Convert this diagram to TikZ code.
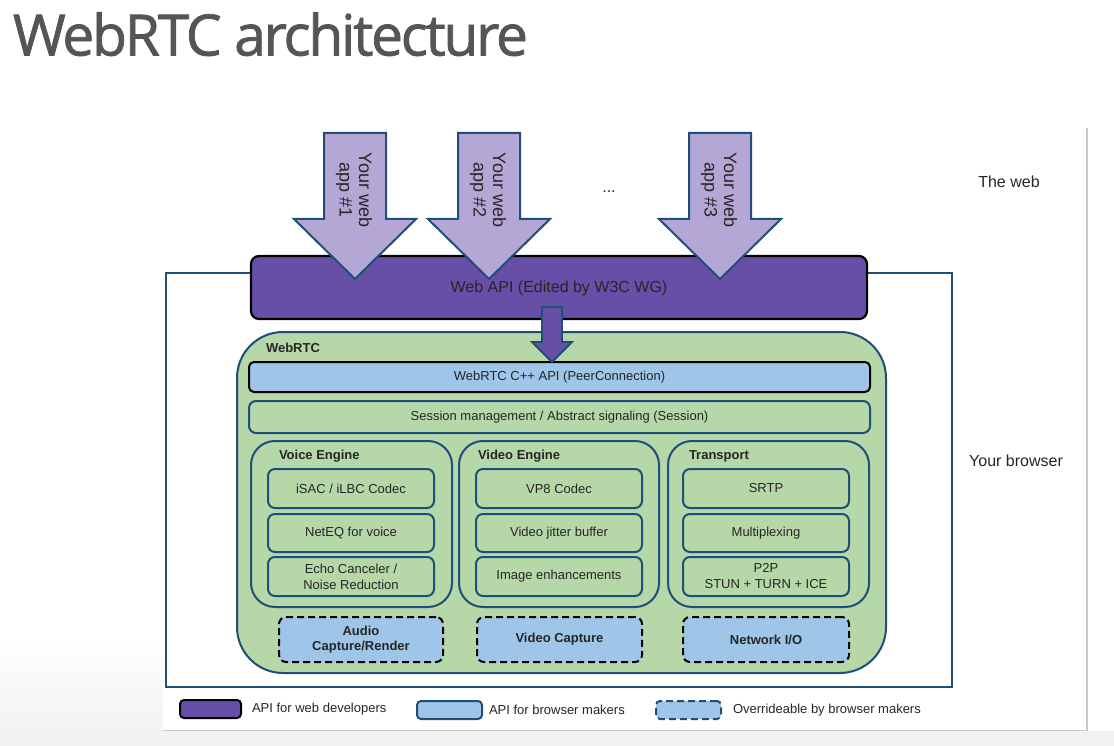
\documentclass[tikz,border=0pt]{standalone}
\usepackage{fontspec}
\setmainfont{Liberation Sans}
\newfontfamily\titlefont[FakeBold=1.3,LetterSpace=-4]{Open Sans}
\usetikzlibrary{calc}
\definecolor{apipurple}{HTML}{674EA7}
\definecolor{apppurple}{HTML}{B4A7D6}
\definecolor{rtcgreen}{HTML}{B6D7A8}
\definecolor{apiblue}{HTML}{9FC5E8}
\definecolor{bordblue}{HTML}{1F4E79}
\definecolor{txt}{HTML}{262626}
\definecolor{titlegrey}{HTML}{555555}
\definecolor{framegrey}{HTML}{C8C8C8}
\definecolor{pagegrey}{HTML}{F2F2F2}
\newcommand\fsz[2]{\fontsize{#1}{#2}\selectfont}
\begin{document}
\begin{tikzpicture}[x=1pt,y=-1pt,
  every node/.style={inner sep=0pt,outer sep=0pt,text=txt},
  devapi/.style={draw=black,line width=2.2pt,fill=apipurple,rounded corners=8pt},
  makerapi/.style={draw=black,line width=2pt,fill=apiblue,rounded corners=5pt},
  greenbox/.style={draw=bordblue,line width=2pt,fill=rtcgreen,rounded corners=7pt,font=\fsz{13}{16},align=center},
  enginebox/.style={draw=bordblue,line width=2pt,fill=rtcgreen,rounded corners=24pt},
  overbox/.style={draw=black,line width=2pt,fill=apiblue,rounded corners=7pt,dash pattern=on 7pt off 4pt,font=\bfseries\fsz{13}{15},align=center},
  enginetitle/.style={anchor=west,font=\bfseries\fsz{13}{15}},
  apparrow/.style={draw=bordblue,line width=2pt,fill=apppurple,line join=miter},
  apptext/.style={rotate=-90,align=center,font=\fsz{18}{19.5}},
  sidetext/.style={font=\fsz{16}{18}},
  legendtext/.style={anchor=west,font=\fsz{13}{15}}
]
\useasboundingbox (0,0) rectangle (1114,746);
\fill[white] (0,0) rectangle (1114,746);
% page outside the frame
\shade[top color=white,bottom color=pagegrey] (0,640) rectangle (163,731);
\fill[pagegrey] (0,731) rectangle (1114,746);
\draw[framegrey,line width=1.5pt] (1087,128) -- (1087,730.5) -- (163,730.5);

% title
\node[anchor=base west,text=titlegrey,font=\titlefont\fsz{57}{66}] (title) at (13,55.5) {WebRTC architecture};

% browser frame
\node[draw=bordblue,line width=2pt,minimum width=786pt,minimum height=414pt] (browser) at (559,480) {};
% web API bar
\node[devapi,minimum width=616pt,minimum height=63pt] (webapi) at (559,287.5) {};
\node[font=\fsz{16}{18}] (webapitext) at (559,288) {Web API (Edited by W3C WG)};

% big app arrows
\foreach \cx/\n in {355/1,489/2,720/3}{
  \path[apparrow] (\cx-31,133) -- (\cx+31,133) -- (\cx+31,219) -- (\cx+61,219)
     -- (\cx,279) -- (\cx-61,219) -- (\cx-31,219) -- cycle;
  \node[apptext] (app\n) at (\cx-1,190) {Your web\\app \#\n};
}
\node[font=\fsz{16}{18}] (dots) at (609,192) {...};

\node[sidetext] (theweb) at (1009,182) {The web};
\node[sidetext] (yourbrowser) at (1016,461) {Your browser};

% WebRTC block
\node[draw=bordblue,line width=2pt,fill=rtcgreen,rounded corners=46pt,minimum width=649pt,minimum height=341pt] (webrtc) at (561.5,502.5) {};
\node[enginetitle] (webrtclabel) at (266,348) {WebRTC};

\node[makerapi,minimum width=621pt,minimum height=30pt,font=\fsz{13}{15}] (cpp) at (559.5,377) {WebRTC C++ API (PeerConnection)};
\node[greenbox,minimum width=621pt,minimum height=32pt] (session) at (559.5,417) {Session management / Abstract signaling (Session)};

% engines
\node[enginebox,minimum width=201pt,minimum height=166pt] (voice) at (351.5,524) {};
\node[enginebox,minimum width=200pt,minimum height=166pt] (video) at (559,524) {};
\node[enginebox,minimum width=201pt,minimum height=166pt] (transport) at (768.5,524) {};
\node[enginetitle] (voicetitle) at (279,456) {Voice Engine};
\node[enginetitle] (videotitle) at (478,456) {Video Engine};
\node[enginetitle] (transporttitle) at (689,456) {Transport};

\node[greenbox,minimum width=166pt,minimum height=39pt] (isac) at (351,488.5) {iSAC / iLBC Codec};
\node[greenbox,minimum width=166pt,minimum height=38pt] (neteq) at (351,533) {NetEQ for voice};
\node[greenbox,minimum width=166pt,minimum height=39pt] (echo) at (351,576.5) {Echo Canceler /\\Noise Reduction};

\node[greenbox,minimum width=166pt,minimum height=39pt] (vp8) at (559,488.5) {VP8 Codec};
\node[greenbox,minimum width=166pt,minimum height=38pt] (jitter) at (559,533) {Video jitter buffer};
\node[greenbox,minimum width=166pt,minimum height=39pt] (image) at (559,576.5) {Image enhancements};

\node[greenbox,minimum width=166pt,minimum height=39pt] (srtp) at (766,488.5) {SRTP};
\node[greenbox,minimum width=166pt,minimum height=38pt] (mux) at (766,533) {Multiplexing};
\node[greenbox,minimum width=166pt,minimum height=39pt] (p2p) at (766,576.5) {P2P\\STUN + TURN + ICE};

\node[overbox,minimum width=164pt,minimum height=45pt] (audiocap) at (361,639.5) {Audio\\Capture/Render};
\node[overbox,minimum width=165pt,minimum height=45pt] (videocap) at (559.5,639.5) {Video Capture};
\node[overbox,minimum width=166pt,minimum height=45pt] (netio) at (766,639.5) {Network I/O};

% small arrow from Web API down to the C++ API
\coordinate (tip) at ($(cpp.north)+(-7.5,0)$);
\path[draw=bordblue,line width=1.8pt,fill=apipurple,line join=miter]
  ($(tip)+(-10,-55)$) -- ($(tip)+(10,-55)$) -- ($(tip)+(10,-20)$) -- ($(tip)+(20,-20)$)
  -- (tip) -- ($(tip)+(-20,-20)$) -- ($(tip)+(-10,-20)$) -- cycle;

% legend
\node[devapi,rounded corners=4pt,line width=2pt,minimum width=61pt,minimum height=18pt] (legdev) at (210.5,709) {};
\node[legendtext] (legdevtext) at (252,709) {API for web developers};
\node[makerapi,rounded corners=4pt,draw=bordblue,minimum width=65pt,minimum height=18pt] (legmaker) at (449.5,710) {};
\node[legendtext] (legmakertext) at (489,710) {API for browser makers};
\node[draw=bordblue,line width=2pt,fill=apiblue,rounded corners=4pt,dash pattern=on 7pt off 4pt,minimum width=65pt,minimum height=18pt] (legover) at (688.5,710) {};
\node[legendtext] (legovertext) at (733,710) {Overrideable by browser makers};
\end{tikzpicture}
\end{document}
